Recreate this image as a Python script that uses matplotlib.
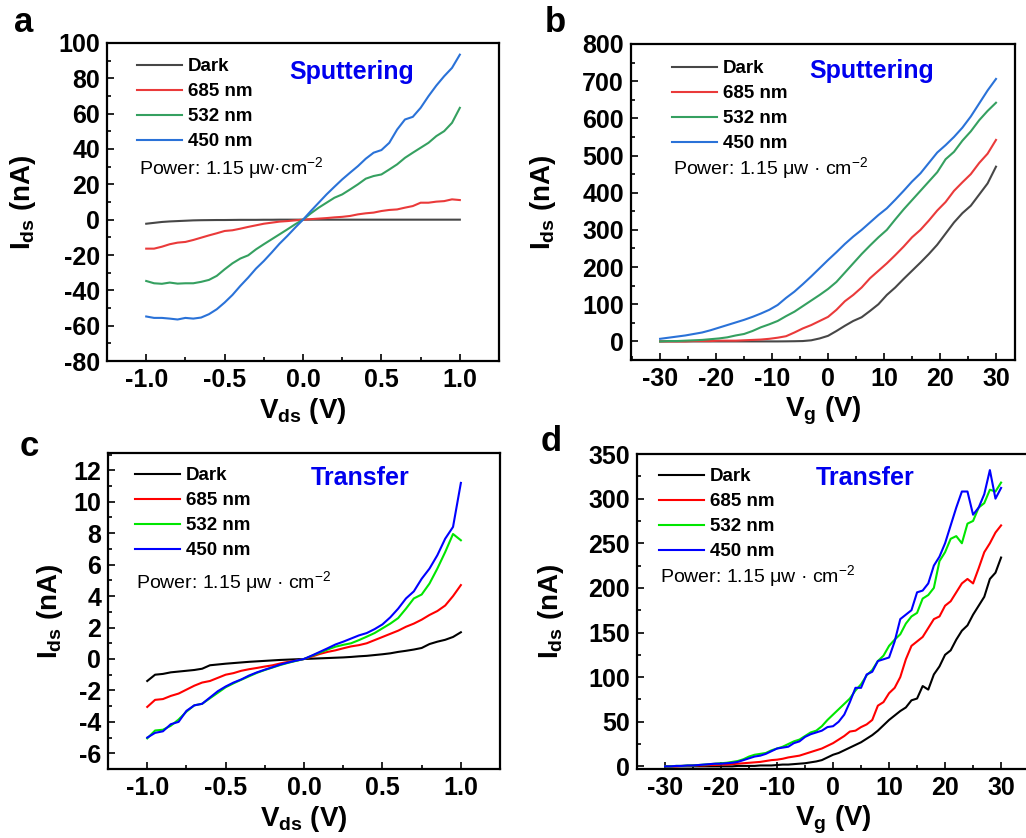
import matplotlib
matplotlib.use("Agg")
import matplotlib.pyplot as plt
import numpy as np
from matplotlib.ticker import MultipleLocator

plt.rcParams["font.family"] = ["Liberation Sans", "DejaVu Sans"]
plt.rcParams["font.weight"] = "bold"
plt.rcParams["axes.labelweight"] = "bold"
plt.rcParams["mathtext.default"] = "regular"
plt.rcParams["axes.unicode_minus"] = False

labels = ["Dark", "685 nm", "532 nm", "450 nm"]
colors_sp = ["#474747", "#ea3a3a", "#35a060", "#2a72d8"]
colors_tr = ["#000000", "#ff0000", "#00e600", "#0000ff"]

# panel a: Ids vs Vds (sputtering)
vds_a = np.round(np.arange(-1.0, 1.0001, 0.05), 2)
a_dark = [-2.3, -1.8, -1.3, -1.0, -0.8, -0.6, -0.4, -0.3, -0.25, -0.2, -0.2, -0.15, -0.1, -0.1, -0.1,
          -0.05, -0.05, 0, 0, 0, 0, 0, 0, 0, 0, 0, 0, 0, 0, 0, 0, 0, 0, 0, 0, 0, 0, 0, 0, 0, 0]
a_685 = [-16.4, -16.4, -15.3, -13.9, -13.0, -12.6, -11.5, -10.2, -8.9, -7.7, -6.4, -6.0, -5.1, -4.1, -3.2,
         -2.3, -1.7, -1.1, -0.8, -0.4, 0, 0.3, 0.6, 0.9, 1.3, 1.6, 2.1, 3.0, 3.6, 4.0, 4.9, 5.5, 5.8,
         6.8, 7.7, 9.6, 9.6, 10.2, 10.5, 11.5, 11.1]
a_532 = [-34.7, -36.0, -36.3, -35.6, -36.2, -36.0, -36.0, -35.2, -34.1, -31.8, -28.1, -24.7, -22.0,
         -20.2, -16.8, -13.9, -11.1, -8.3, -5.5, -2.6, 0, 3.6, 6.8, 9.6, 12.4, 14.3, 17.1, 20.0, 23.2,
         24.7, 25.6, 28.4, 31.3, 35.0, 37.9, 40.7, 43.5, 47.3, 50.1, 54.8, 63.3]
a_450 = [-54.8, -55.6, -55.6, -56.0, -56.5, -55.6, -56.0, -55.4, -53.5, -50.7, -46.9, -42.6, -37.5,
         -32.8, -27.7, -23.4, -18.6, -13.6, -9.2, -4.5, 0, 4.9, 9.6, 14.3, 18.6, 22.8, 26.6, 30.3, 34.5,
         37.9, 39.4, 43.5, 51.0, 56.7, 58.2, 63.3, 69.9, 75.9, 81.2, 85.9, 93.4]

# panel b: Ids vs Vg (sputtering)
vg_b = np.round(np.arange(-30, 30.001, 1.5), 1)
b_dark = [0, 0, 0, 0, 0, 0, 0, 0, 0, 0, 0, 0, 0, 0, 0, 0.2, 0.5, 1, 3, 8, 15, 28, 42, 55, 65, 82, 100,
          125, 145, 168, 190, 212, 235, 260, 290, 320, 345, 365, 395, 425, 470]
b_685 = [0, 0, 0, 0, 1, 1, 1, 2, 2, 2, 3, 4, 5, 7, 10, 14, 24, 35, 44, 55, 66, 85, 108, 125, 145, 170,
         190, 210, 232, 255, 280, 300, 325, 352, 375, 405, 428, 450, 480, 505, 542]
b_532 = [0, 1, 1, 2, 3, 4, 6, 8, 11, 16, 20, 28, 38, 46, 55, 68, 80, 95, 110, 125, 141, 160, 185, 210,
         235, 258, 280, 300, 328, 355, 380, 405, 430, 455, 490, 510, 540, 565, 595, 620, 642]
b_450 = [7, 10, 13, 16, 20, 24, 30, 37, 44, 51, 58, 66, 75, 85, 98, 117, 134, 154, 175, 197, 219, 240,
         262, 282, 300, 320, 340, 358, 381, 405, 430, 452, 480, 508, 528, 550, 575, 605, 640, 675, 706]

# panel c: Ids vs Vds (transfer)
vds_c = np.round(np.arange(-1.0, 1.0001, 0.05), 2)
c_dark = [-1.4, -1.0, -0.95, -0.85, -0.8, -0.75, -0.7, -0.62, -0.4, -0.35, -0.3, -0.26, -0.22, -0.18,
          -0.15, -0.12, -0.09, -0.06, -0.04, -0.02, 0, 0.02, 0.04, 0.06, 0.08, 0.1, 0.13, 0.17, 0.2,
          0.25, 0.3, 0.36, 0.45, 0.52, 0.6, 0.7, 0.95, 1.1, 1.22, 1.4, 1.7]
c_685 = [-3.05, -2.6, -2.55, -2.35, -2.2, -1.95, -1.7, -1.5, -1.4, -1.2, -1.0, -0.9, -0.75, -0.65, -0.57,
         -0.48, -0.4, -0.28, -0.18, -0.1, 0, 0.15, 0.32, 0.45, 0.55, 0.68, 0.8, 0.88, 1.0, 1.2, 1.4,
         1.6, 1.8, 2.05, 2.25, 2.5, 2.8, 3.05, 3.4, 4.0, 4.7]
c_532 = [-5.05, -4.55, -4.5, -4.25, -3.85, -3.35, -2.95, -2.85, -2.5, -2.15, -1.8, -1.55, -1.32, -1.1,
         -0.88, -0.7, -0.54, -0.38, -0.24, -0.12, 0, 0.2, 0.4, 0.6, 0.78, 0.9, 1.0, 1.2, 1.42, 1.65,
         1.95, 2.25, 2.6, 3.2, 3.85, 4.1, 4.8, 5.75, 6.8, 7.95, 7.55]
c_450 = [-5.0, -4.7, -4.6, -4.15, -4.0, -3.3, -2.95, -2.85, -2.45, -2.05, -1.75, -1.5, -1.3, -1.05,
         -0.85, -0.68, -0.52, -0.35, -0.22, -0.1, 0, 0.22, 0.45, 0.68, 0.92, 1.1, 1.3, 1.5, 1.65, 1.9,
         2.2, 2.65, 3.2, 3.85, 4.3, 5.1, 5.75, 6.6, 7.65, 8.4, 11.2]

# panel d: Ids vs Vg (transfer)
vg_d = np.arange(-30, 31, 1)
d_dark = [0, 0, 0, 0, 0, 0, 0, 0, 0, 0, 0, 0, 0, 0.5, 0.5, 0.5, 0.5, 1, 1, 1, 1.5, 2, 2, 2.5, 3, 3.5,
          4.5, 5.5, 7, 10, 13, 15, 18, 21, 24, 27, 31, 35, 40, 46, 52, 57, 62, 66, 74, 76, 90, 86, 103,
          112, 125, 130, 142, 152, 158, 170, 180, 190, 210, 217, 234]
d_685 = [0, 0, 0, 0.5, 0.5, 1, 1, 1, 1.5, 1.5, 2, 2, 2.5, 3, 3.5, 4, 4.5, 5, 6, 7, 7.5, 8.5, 10, 11, 12,
         14, 16, 18, 20, 23, 26, 30, 34, 39, 40, 44, 47, 52, 68, 72, 82, 88, 100, 120, 135, 140, 145,
         155, 165, 168, 180, 185, 195, 205, 210, 205, 222, 240, 250, 262, 270]
d_532 = [0, 0, 0.5, 0.5, 1, 1, 1.5, 2, 2.5, 3, 3.5, 4, 5, 6, 8, 11, 13, 14, 15, 18, 20, 22, 25, 28, 30,
         34, 38, 40, 45, 52, 58, 64, 70, 76, 85, 92, 102, 108, 118, 124, 135, 142, 148, 160, 168, 172,
         188, 192, 200, 230, 240, 255, 258, 250, 272, 275, 290, 295, 310, 308, 318]
d_450 = [0, 0, 0.5, 0.5, 1, 1, 1.5, 2, 2.5, 3, 3, 3.5, 4, 5, 7, 9, 11, 12, 14, 17, 20, 21, 22, 26, 28,
         33, 36, 38, 40, 44, 45, 50, 58, 72, 88, 88, 103, 106, 118, 120, 122, 140, 165, 170, 175, 195,
         197, 205, 225, 235, 250, 270, 290, 308, 308, 282, 290, 305, 332, 300, 312]

power_a = "Power: 1.15 μw·cm$^{-2}$"
power_b = "Power: 1.15 μw · cm$^{-2}$"


def panel(ax, x, curves, colors, xlim, ylim, xmaj, ymaj, xlabel, title, tpos, power, ppos, lpos, ylx):
    for y, c, lab in zip(curves, colors, labels):
        ax.plot(x, y, color=c, lw=1.5, label=lab)
    ax.set_xlim(*xlim)
    ax.set_ylim(*ylim)
    ax.xaxis.set_major_locator(MultipleLocator(xmaj))
    ax.xaxis.set_minor_locator(MultipleLocator(xmaj / 2))
    ax.yaxis.set_major_locator(MultipleLocator(ymaj))
    ax.yaxis.set_minor_locator(MultipleLocator(ymaj / 2))
    ax.tick_params(which="both", direction="in", width=1.2, labelsize=18, pad=5)
    ax.tick_params(which="major", length=5)
    ax.tick_params(which="minor", length=3)
    for s in ax.spines.values():
        s.set_linewidth(1.6)
    ax.set_xlabel(xlabel, fontsize=20, labelpad=3)
    ax.set_ylabel("I$_{ds}$ (nA)", fontsize=20)
    ax.yaxis.set_label_coords(ylx, 0.5)
    ax.text(tpos[0], tpos[1], title, transform=ax.transAxes, color="#0000ee",
            fontsize=18, fontweight="bold")
    ax.text(ppos[0], ppos[1], power, transform=ax.transAxes, fontsize=14, fontweight="normal")
    ax.legend(loc="upper left", bbox_to_anchor=lpos, frameon=False, fontsize=13.5,
              handlelength=2.4, handletextpad=0.3, labelspacing=0.42, borderpad=0, borderaxespad=0)


fig = plt.figure(figsize=(10.26, 8.38), dpi=100)
ax_a = fig.add_axes([0.1043, 0.5692, 0.3821, 0.3795])
ax_b = fig.add_axes([0.6150, 0.5704, 0.3743, 0.3771])
ax_c = fig.add_axes([0.1053, 0.0823, 0.3821, 0.3771])
ax_d = fig.add_axes([0.6209, 0.0823, 0.3821, 0.3759])

panel(ax_a, vds_a, [a_dark, a_685, a_532, a_450], colors_sp, (-1.25, 1.25), (-80, 100), 0.5, 20,
      "V$_{ds}$ (V)", "Sputtering", (0.464, 0.887), power_a, (0.082, 0.588), (0.0765, 0.952), -0.175)
panel(ax_b, vg_b, [b_dark, b_685, b_532, b_450], colors_sp, (-35.2, 33.4), (-50, 800), 10, 100,
      "V$_{g}$ (V)", "Sputtering", (0.4635, 0.892), power_b, (0.109, 0.589), (0.107, 0.949), -0.19)
panel(ax_c, vds_c, [c_dark, c_685, c_532, c_450], colors_tr, (-1.25, 1.25), (-7, 13.1), 0.5, 2,
      "V$_{ds}$ (V)", "Transfer", (0.518, 0.899), power_b, (0.071, 0.573), (0.069, 0.955), -0.11)
panel(ax_d, vg_d, [d_dark, d_685, d_532, d_450], colors_tr, (-35, 35), (-3, 350), 10, 50,
      "V$_{g}$ (V)", "Transfer", (0.457, 0.902), power_b, (0.059, 0.594), (0.056, 0.955), -0.18)

for lab, x, y in [("a", 0.0136, 0.962), ("b", 0.531, 0.962), ("c", 0.0195, 0.4558), ("d", 0.527, 0.4618)]:
    fig.text(x, y, lab, fontsize=25, fontweight="bold", va="baseline")

fig.savefig("out.png", dpi=100)
plt.close()
